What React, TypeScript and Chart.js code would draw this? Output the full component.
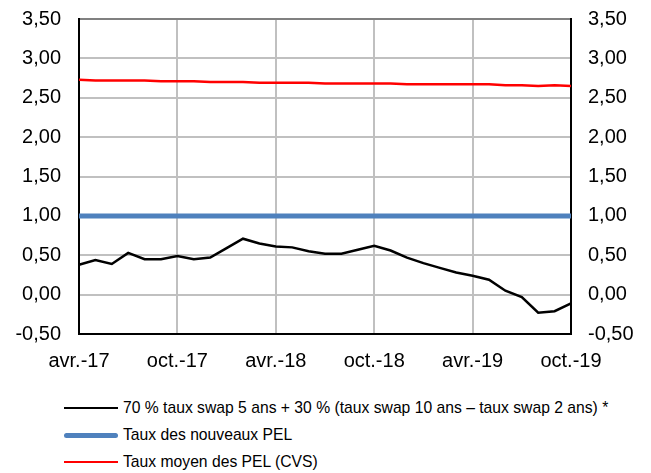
import React, { useEffect, useRef } from "react";
import { Chart, registerables } from "chart.js";

Chart.register(...registerables);

const months: string[] = [
  "avr.-17", "mai-17", "juin-17", "juil.-17", "août-17", "sept.-17", "oct.-17", "nov.-17", "déc.-17",
  "janv.-18", "févr.-18", "mars-18", "avr.-18", "mai-18", "juin-18", "juil.-18", "août-18", "sept.-18", "oct.-18", "nov.-18", "déc.-18",
  "janv.-19", "févr.-19", "mars-19", "avr.-19", "mai-19", "juin-19", "juil.-19", "août-19", "sept.-19", "oct.-19",
];

const swapSeries: number[] = [
  0.38, 0.44, 0.39, 0.53, 0.45, 0.45, 0.49, 0.45, 0.47, 0.59, 0.71, 0.65, 0.61, 0.60, 0.55, 0.52,
  0.52, 0.57, 0.62, 0.56, 0.47, 0.40, 0.34, 0.28, 0.24, 0.19, 0.05, -0.03, -0.23, -0.21, -0.11,
];

const newPelSeries: number[] = [
  1.0, 1.0, 1.0, 1.0, 1.0, 1.0, 1.0, 1.0, 1.0, 1.0, 1.0, 1.0, 1.0, 1.0, 1.0, 1.0,
  1.0, 1.0, 1.0, 1.0, 1.0, 1.0, 1.0, 1.0, 1.0, 1.0, 1.0, 1.0, 1.0, 1.0, 1.0,
];

const avgPelSeries: number[] = [
  2.73, 2.72, 2.72, 2.72, 2.72, 2.71, 2.71, 2.71, 2.70, 2.70, 2.70, 2.69, 2.69, 2.69, 2.69, 2.68,
  2.68, 2.68, 2.68, 2.68, 2.67, 2.67, 2.67, 2.67, 2.67, 2.67, 2.66, 2.66, 2.65, 2.66, 2.65,
];

const seriesNames: string[] = [
  "70 % taux swap 5 ans + 30 % (taux swap 10 ans – taux swap 2 ans) *",
  "Taux des nouveaux PEL",
  "Taux moyen des PEL (CVS)",
];

const colors = ["#000000", "#4f81bd", "#ff0000"];
const widths = [2.5, 5, 2.5];
const legendWidths = [2, 5, 2];

const FONT = "'Liberation Sans', Arial, sans-serif";

const fmt = (v: number) => v.toFixed(2).replace(".", ",");

export default function App() {
  const ref = useRef<HTMLCanvasElement | null>(null);

  useEffect(() => {
    if (!ref.current) return;
    const tickFont = { family: FONT, size: 20 };
    const chart = new Chart(ref.current, {
      type: "line",
      data: {
        labels: months,
        datasets: [
          { label: seriesNames[0], data: swapSeries, borderColor: colors[0], borderWidth: widths[0], pointRadius: 0, tension: 0, yAxisID: "y" },
          { label: seriesNames[1], data: newPelSeries, borderColor: colors[1], borderWidth: widths[1], pointRadius: 0, tension: 0, yAxisID: "y" },
          { label: seriesNames[2], data: avgPelSeries, borderColor: colors[2], borderWidth: widths[2], pointRadius: 0, tension: 0, yAxisID: "y" },
        ],
      },
      options: {
        animation: false,
        responsive: false,
        maintainAspectRatio: false,
        layout: { padding: { top: 19, left: 0, right: 0, bottom: 0 } },
        plugins: { legend: { display: false }, tooltip: { enabled: false } },
        scales: {
          x: {
            type: "category",
            offset: false,
            grid: {
              drawTicks: false,
              lineWidth: 2,
              color: (ctx: any) => (ctx.index % 6 === 0 ? "#c0c0c0" : "rgba(0,0,0,0)"),
            },
            border: { display: true, color: "#000000", width: 2 },
            ticks: {
              autoSkip: false,
              maxRotation: 0,
              padding: 15,
              color: "#000000",
              font: tickFont,
              callback: (_v: any, i: number) => (i % 6 === 0 ? months[i] : ""),
            },
            afterFit: (s: any) => {
              s.height = 46;
              s.paddingLeft = 0;
              s.paddingRight = 0;
            },
          },
          y: {
            position: "left",
            min: -0.5,
            max: 3.5,
            grid: {
              drawTicks: false,
              lineWidth: 2,
              color: (ctx: any) => (ctx.tick && ctx.tick.value === 3.5 ? "#808080" : "#c0c0c0"),
            },
            border: { display: true, color: "#000000", width: 2 },
            ticks: {
              stepSize: 0.5,
              padding: 18,
              color: "#000000",
              font: tickFont,
              callback: (v: any) => fmt(Number(v)),
            },
            afterFit: (s: any) => {
              s.width = 79;
              s.paddingTop = 0;
              s.paddingBottom = 0;
            },
          },
          y2: {
            position: "right",
            min: -0.5,
            max: 3.5,
            grid: { display: false, drawTicks: false },
            border: { display: true, color: "#000000", width: 2 },
            ticks: {
              stepSize: 0.5,
              padding: 17,
              color: "#000000",
              font: tickFont,
              callback: (v: any) => fmt(Number(v)),
            },
            afterFit: (s: any) => {
              s.width = 80;
              s.paddingTop = 0;
              s.paddingBottom = 0;
            },
          },
        },
      },
    });
    return () => chart.destroy();
  }, []);

  const rowCenters = [408, 435, 461.5];

  return (
    <div style={{ position: "fixed", left: 0, top: 0, width: 651, height: 473, background: "#ffffff" }}>
      <canvas ref={ref} width={651} height={380} style={{ position: "absolute", left: 0, top: 0, width: 651, height: 380 }} />
      {seriesNames.map((name, i) => (
        <div key={name} style={{ position: "absolute", left: 0, top: rowCenters[i] - 10, height: 20, width: 651 }}>
          <div
            style={{
              position: "absolute",
              left: 64,
              width: 54,
              top: 10 - legendWidths[i] / 2,
              height: legendWidths[i],
              background: colors[i],
              borderRadius: i === 1 ? 3 : 0,
            }}
          />
          <div
            style={{
              position: "absolute",
              left: 123,
              top: 0,
              lineHeight: "20px",
              fontFamily: FONT,
              fontSize: 15.7,
              color: "#000000",
              whiteSpace: "nowrap",
            }}
          >
            {name}
          </div>
        </div>
      ))}
    </div>
  );
}
